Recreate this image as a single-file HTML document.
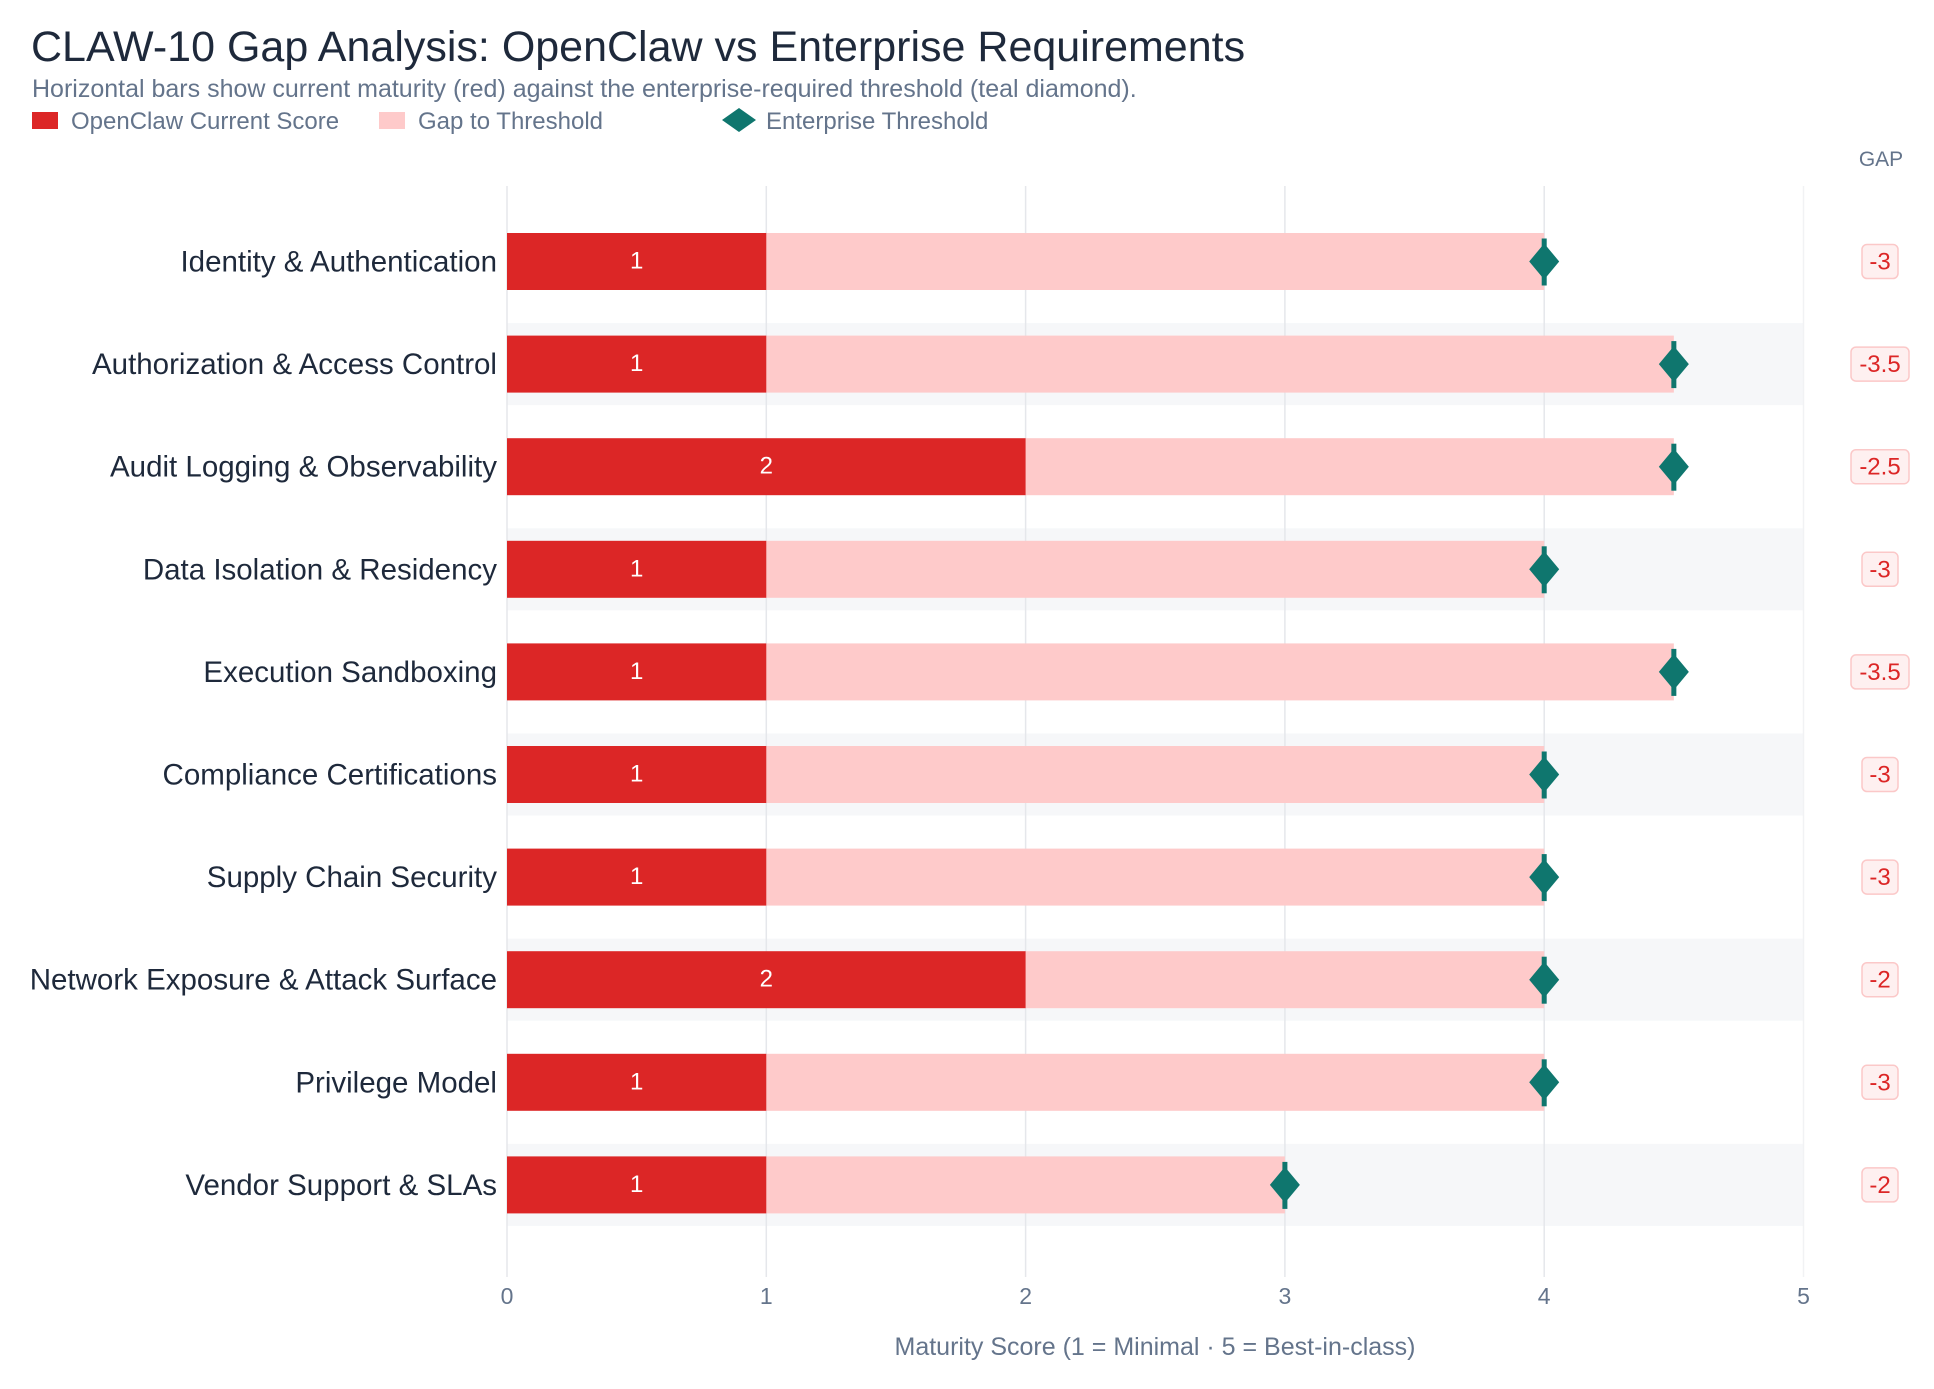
<!DOCTYPE html>
<html><head><meta charset="utf-8"><style>
html,body{margin:0;padding:0;background:#fff;}
svg{display:block;font-family:"Liberation Sans",Arial,sans-serif;}
</style></head><body>
<svg width="1934" height="1389" viewBox="0 0 1934 1389" xmlns="http://www.w3.org/2000/svg">
<rect width="1934" height="1389" fill="#fff"/>
<text x="31" y="61" font-size="43" fill="#1e293b">CLAW-10 Gap Analysis: OpenClaw vs Enterprise Requirements</text>
<text x="32" y="97" font-size="25" fill="#64748b">Horizontal bars show current maturity (red) against the enterprise-required threshold (teal diamond).</text>
<rect x="32" y="112" width="26" height="17" fill="#dc2626"/>
<text x="71" y="129" font-size="24" fill="#64748b">OpenClaw Current Score</text>
<rect x="379" y="112" width="26" height="17" fill="#fecaca"/>
<text x="418" y="129" font-size="24" fill="#64748b">Gap to Threshold</text>
<polygon points="739,108 756,120 739,132 722,120" fill="#0f766e"/>
<text x="766" y="129" font-size="24" fill="#64748b">Enterprise Threshold</text>
<text x="1881" y="166" font-size="21" fill="#64748b" text-anchor="middle">GAP</text>
<g id="stripes" fill="#f6f7f9"></g>
<g id="grid" stroke="#e5e7eb" stroke-width="1.5"></g>
<g id="ticks" font-size="23" fill="#64748b" text-anchor="middle"></g>
<text x="1155" y="1355" font-size="25" fill="#64748b" text-anchor="middle">Maturity Score (1 = Minimal  ·  5 = Best-in-class)</text>
<g id="rows"></g>
</svg>
<script>
var names=["Identity & Authentication","Authorization & Access Control","Audit Logging & Observability","Data Isolation & Residency","Execution Sandboxing","Compliance Certifications","Supply Chain Security","Network Exposure & Attack Surface","Privilege Model","Vendor Support & SLAs"];
var cur=[1,1,2,1,1,1,1,2,1,1],thr=[4,4.5,4.5,4,4.5,4,4,4,4,3];
var x0=507,u=259.3,y0=261.5,sp=102.6,h='',s='',g='',t='';
for(var k=0;k<=5;k++){var x=x0+k*u;g+='<line x1="'+x+'" y1="186" x2="'+x+'" y2="1277"'+(k==5?' stroke="#f1f2f4"':'')+'/>';t+='<text x="'+x+'" y="1304">'+k+'</text>';}
for(var i=0;i<10;i++){var cy=y0+i*sp;var xc=x0+cur[i]*u,xt=x0+thr[i]*u;var gs=String(cur[i]-thr[i]);
if(i%2==1)s+='<rect x="'+x0+'" y="'+(cy-41)+'" width="'+(5*u)+'" height="82"/>';
h+='<rect x="'+xc+'" y="'+(cy-28.5)+'" width="'+(xt-xc)+'" height="57" fill="#fecaca"/>';
h+='<rect x="'+x0+'" y="'+(cy-28.5)+'" width="'+(xc-x0)+'" height="57" fill="#dc2626"/>';
h+='<text x="'+((x0+xc)/2)+'" y="'+(cy+7)+'" font-size="24" fill="#fff" text-anchor="middle">'+cur[i]+'</text>';
h+='<text x="497" y="'+(cy+10)+'" font-size="29.5" fill="#1e293b" text-anchor="end">'+names[i].replace(/&/g,'&amp;')+'</text>';
h+='<rect x="'+(xt-2.5)+'" y="'+(cy-23)+'" width="5" height="47" fill="#0f766e"/>';
h+='<polygon points="'+xt+','+(cy-18)+' '+(xt+15)+','+cy+' '+xt+','+(cy+18)+' '+(xt-15)+','+cy+'" fill="#0f766e"/>';
var w=gs.length>2?58:36;
h+='<rect x="'+(1880-w/2)+'" y="'+(cy-17)+'" width="'+w+'" height="34" rx="5" fill="#fef0f0" stroke="#fbc8c8" stroke-width="1.5"/>';
h+='<text x="1880" y="'+(cy+8)+'" font-size="24" fill="#dc2626" text-anchor="middle">'+gs+'</text>';}
document.getElementById('stripes').innerHTML=s;
document.getElementById('grid').innerHTML=g;
document.getElementById('ticks').innerHTML=t;
document.getElementById('rows').innerHTML=h;
</script>
</body></html>
